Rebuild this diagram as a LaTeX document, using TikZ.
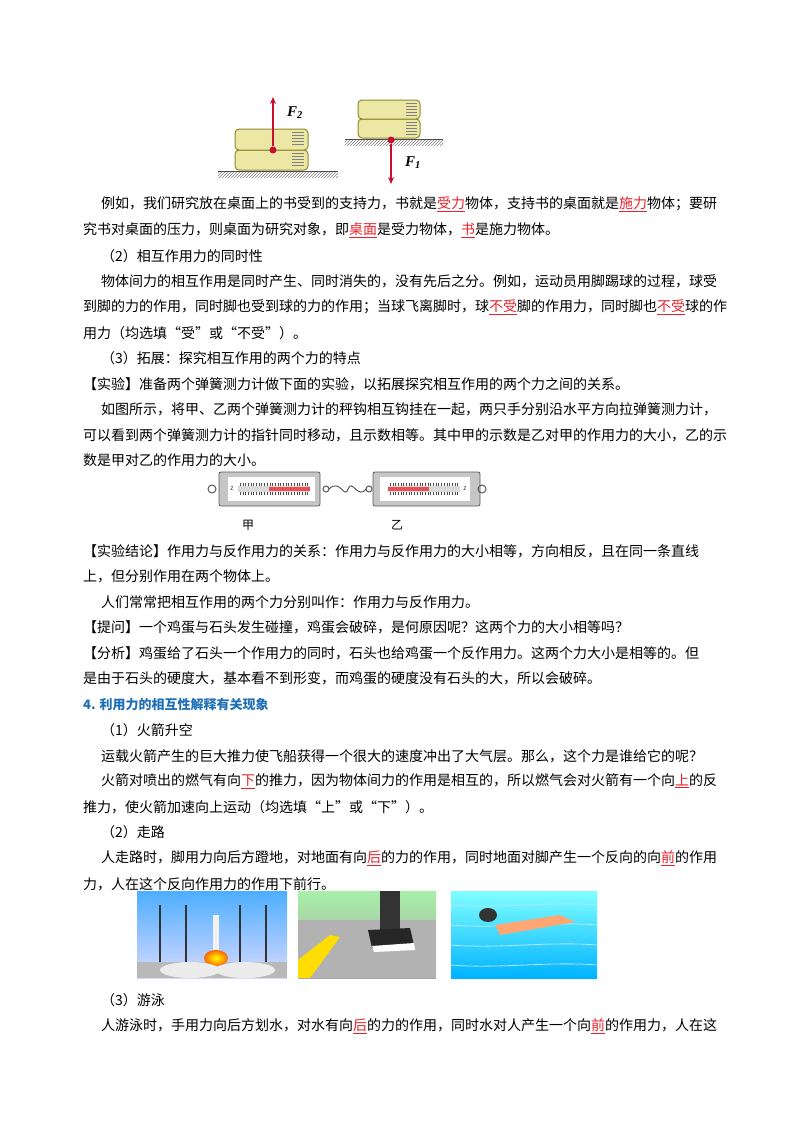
\documentclass[tikz,border=0pt]{standalone}
\usepackage{fontspec}
\setmainfont{Noto Sans CJK SC}
\newfontfamily\serf{Liberation Serif}
\usetikzlibrary{patterns,arrows.meta}
\definecolor{ansred}{HTML}{E8212B}
\definecolor{hblue}{HTML}{1F6FB5}
\definecolor{bookf}{HTML}{EDE7A6}
\definecolor{bookd}{HTML}{8C8A2E}
\definecolor{arr}{HTML}{C8102E}
\newcommand\ans[1]{\textcolor{ansred}{\underline{#1}}}
\begin{document}
\begin{tikzpicture}[x=1pt,y=-1pt,
  txt/.style={anchor=west,inner sep=0pt,font=\fontsize{14pt}{14pt}\selectfont},
  book/.style={draw=bookd,fill=bookf,line width=1pt,rounded corners=4pt},
  force/.style={draw=arr,line width=1.4pt,-{Stealth[length=7pt,width=6pt]}},
  dot/.style={circle,fill=arr,inner sep=0pt,minimum size=7pt},
  flab/.style={font=\serf\bfseries\itshape\fontsize{15pt}{15pt}\selectfont,inner sep=0pt},
  scalebox/.style={draw=gray!70!black,fill=gray!45,rounded corners=2pt,line width=0.8pt},
  photo/.style={inner sep=0pt}]
\useasboundingbox (0,0) rectangle (800,1132);
% ---------- books figure ----------
\fill[pattern=north east lines,pattern color=gray] (218,171) rectangle (338,177);
\draw[line width=1pt,gray!60!black] (218,171) -- (338,171);
\draw[book] (235,150) rectangle (308,170);
\draw[book] (235,129) rectangle (308,150);
\foreach \yy in {153,156,159,162,165,132,135,138,141,144}{\draw[gray,line width=0.6pt] (292,\yy) -- (304,\yy);}
\node[dot] (d2) at (273,150) {};
\coordinate (t2) at (273,97);
\draw[force] (d2) -- (t2);
\node[flab] (f2) at (295,113) {F\textsubscript{2}};
\fill[pattern=north east lines,pattern color=gray] (345,139) rectangle (443,145);
\draw[line width=1pt,gray!60!black] (345,139) -- (443,139);
\draw[book] (358,119) rectangle (420,138);
\draw[book] (358,100) rectangle (420,119);
\foreach \yy in {103,106,109,112,115,122,125,128,131,134}{\draw[gray,line width=0.6pt] (406,\yy) -- (417,\yy);}
\node[dot] (d1) at (391,140) {};
\coordinate (t1) at (391,184);
\draw[force] (d1) -- (t1);
\node[flab] (f1) at (413,163) {F\textsubscript{1}};
% ---------- text ----------
\node[txt] (l1) at (101,204) {例如，我们研究放在桌面上的书受到的支持力，书就是\ans{受力}物体，支持书的桌面就是\ans{施力}物体；要研};
\node[txt] (l2) at (83,230) {究书对桌面的压力，则桌面为研究对象，即\ans{桌面}是受力物体，\ans{书}是施力物体。};
\node[txt] (l3) at (101,256) {（2）相互作用力的同时性};
\node[txt] (l4) at (101,281) {物体间力的相互作用是同时产生、同时消失的，没有先后之分。例如，运动员用脚踢球的过程，球受};
\node[txt] (l5) at (83,307) {到脚的力的作用，同时脚也受到球的力的作用；当球飞离脚时，球\ans{不受}脚的作用力，同时脚也\ans{不受}球的作};
\node[txt] (l6) at (83,333) {用力（均选填“受”或“不受”）。};
\node[txt] (l7) at (101,358) {（3）拓展：探究相互作用的两个力的特点};
\node[txt] (l8) at (83,384) {【实验】准备两个弹簧测力计做下面的实验，以拓展探究相互作用的两个力之间的关系。};
\node[txt] (l9) at (101,409) {如图所示，将甲、乙两个弹簧测力计的秤钩相互钩挂在一起，两只手分别沿水平方向拉弹簧测力计，};
\node[txt] (l10) at (83,435) {可以看到两个弹簧测力计的指针同时移动，且示数相等。其中甲的示数是乙对甲的作用力的大小，乙的示};
\node[txt] (l11) at (83,460) {数是甲对乙的作用力的大小。};
% ---------- spring scales ----------
\draw[scalebox] (219,472) rectangle (320,506);
\fill[white] (228,477) rectangle (315,501);
\draw[gray!70!black,line width=1pt] (212,489) circle (4pt);
\draw[gray!70!black,line width=1pt] (326,489) circle (3pt);
\fill[gray!30] (238,486) rectangle (310,492);
\fill[ansred!80] (269,487) rectangle (310,491);
\foreach \i in {0,...,25}{\draw[gray!60!black,line width=0.4pt] ({240+2.7*\i},483) -- ({240+2.7*\i},486) ({240+2.7*\i},492) -- ({240+2.7*\i},495);}
\node[font=\tiny,inner sep=0pt] (zl) at (232,489) {Z};
\draw[scalebox] (373,472) rectangle (480,506);
\fill[white] (380,477) rectangle (470,501);
\draw[gray!70!black,line width=1pt] (482,489) circle (4pt);
\draw[gray!70!black,line width=1pt] (369,489) circle (3pt);
\fill[gray!30] (388,486) rectangle (460,492);
\fill[ansred!80] (388,487) rectangle (429,491);
\foreach \i in {0,...,25}{\draw[gray!60!black,line width=0.4pt] ({390+2.7*\i},483) -- ({390+2.7*\i},486) ({390+2.7*\i},492) -- ({390+2.7*\i},495);}
\node[font=\tiny,inner sep=0pt] (zr) at (465,489) {Z};
\coordinate (hk1) at (329,489);
\coordinate (hk2) at (366,489);
\draw[gray!60!black,line width=0.9pt] (hk1) .. controls (340,478) and (345,500) .. (348,489) .. controls (352,478) and (358,500) .. (hk2);
\node[txt,anchor=center,font=\fontsize{12pt}{12pt}\selectfont] (jia) at (248,525) {甲};
\node[txt,anchor=center,font=\fontsize{12pt}{12pt}\selectfont] (yi) at (397,525) {乙};
% ---------- more text ----------
\node[txt] (l12) at (83,551) {【实验结论】作用力与反作用力的关系：作用力与反作用力的大小相等，方向相反，且在同一条直线};
\node[txt] (l13) at (83,576) {上，但分别作用在两个物体上。};
\node[txt] (l14) at (101,602) {人们常常把相互作用的两个力分别叫作：作用力与反作用力。};
\node[txt] (l15) at (83,627) {【提问】一个鸡蛋与石头发生碰撞，鸡蛋会破碎，是何原因呢？这两个力的大小相等吗？};
\node[txt] (l16) at (83,653) {【分析】鸡蛋给了石头一个作用力的同时，石头也给鸡蛋一个反作用力。这两个力大小是相等的。但};
\node[txt] (l17) at (83,678) {是由于石头的硬度大，基本看不到形变，而鸡蛋的硬度没有石头的大，所以会破碎。};
\node[txt,text=hblue,font=\bfseries\fontsize{13pt}{13pt}\selectfont] (l18) at (83,705) {4. 利用力的相互性解释有关现象};
\node[txt] (l19) at (101,730) {（1）火箭升空};
\node[txt] (l20) at (101,756) {运载火箭产生的巨大推力使飞船获得一个很大的速度冲出了大气层。那么，这个力是谁给它的呢？};
\node[txt] (l21) at (101,781) {火箭对喷出的燃气有向\ans{下}的推力，因为物体间力的作用是相互的，所以燃气会对火箭有一个向\ans{上}的反};
\node[txt] (l22) at (83,807) {推力，使火箭加速向上运动（均选填“上”或“下”）。};
\node[txt] (l23) at (101,832) {（2）走路};
\node[txt] (l24) at (101,858) {人走路时，脚用力向后方蹬地，对地面有向\ans{后}的力的作用，同时地面对脚产生一个反向的向\ans{前}的作用};
\node[txt] (l25) at (83,884) {力，人在这个反向作用力的作用下前行。};
% ---------- photos ----------
\shade[top color=blue!45!cyan!70,bottom color=blue!15] (137,891) rectangle (287,978);
\fill[gray!55] (137,962) rectangle (287,978);
\foreach \xx in {160,186,240,266}{\draw[gray!40!black,line width=1.2pt] (\xx,905) -- (\xx,962);}
\fill[white!90!gray] (213,915) rectangle (219,950);
\shade[inner color=yellow,outer color=orange!80!red] (216,958) ellipse (12pt and 8pt);
\fill[white!85!gray] (190,970) ellipse (30pt and 8pt);
\fill[white!85!gray] (245,970) ellipse (30pt and 8pt);
\shade[top color=gray!30!green!40,bottom color=gray!70] (298,891) rectangle (436,978);
\fill[gray!60] (298,920) rectangle (436,978);
\fill[yellow!80!orange] (298,960) -- (330,935) -- (340,937) -- (310,978) -- (298,978) -- cycle;
\fill[black!80] (380,891) rectangle (400,935);
\fill[black!85] (368,930) -- (410,928) -- (414,945) -- (372,948) -- cycle;
\fill[white] (372,946) -- (414,943) -- (415,950) -- (374,952) -- cycle;
\shade[top color=cyan!50,bottom color=cyan!70!blue] (451,891) rectangle (597,978);
\foreach \yy in {905,925,945,965}{\draw[white!70!cyan,line width=0.8pt] (451,\yy) .. controls (500,\yy+4) and (550,\yy-4) .. (597,\yy);}
\fill[black!80] (488,915) ellipse (9pt and 7pt);
\fill[orange!40!pink] (495,925) -- (560,915) -- (575,922) -- (500,935) -- cycle;
\node[photo] (p1) at (212,934) {};
\node[photo] (p2) at (367,934) {};
\node[photo] (p3) at (524,934) {};
\node[txt] (l26) at (101,1000) {（3）游泳};
\node[txt] (l27) at (101,1026) {人游泳时，手用力向后方划水，对水有向\ans{后}的力的作用，同时水对人产生一个向\ans{前}的作用力，人在这};
\end{tikzpicture}
\end{document}
